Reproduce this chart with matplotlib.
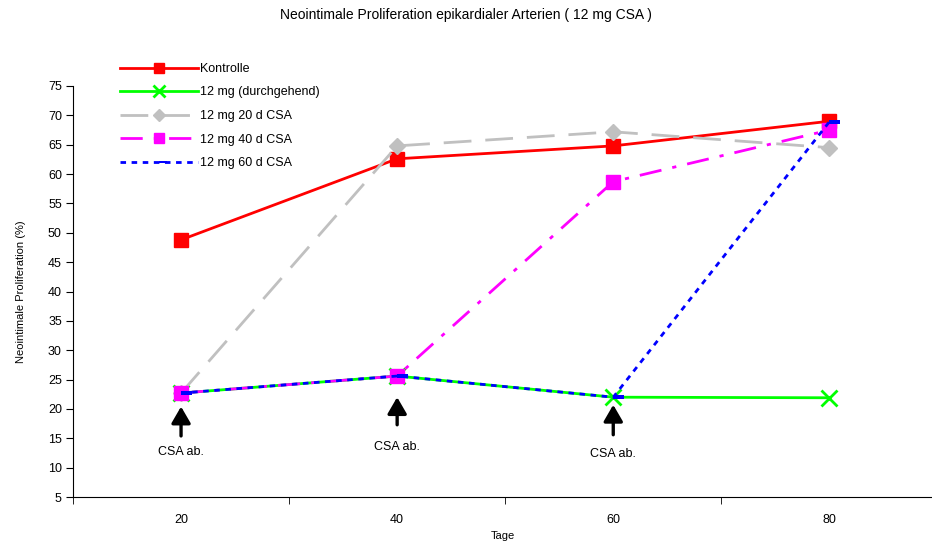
import matplotlib
matplotlib.use("Agg")
import matplotlib.pyplot as plt
from matplotlib.path import Path
from matplotlib.ticker import FixedLocator

# Measurement days and neointimal proliferation (%) per group
tage = [20, 40, 60, 80]
kontrolle = [48.8, 62.6, 64.8, 69.0]
durchgehend = [22.7, 25.6, 22.0, 21.9]
csa_20d = [22.7, 64.8, 67.2, 64.5]
csa_40d = [22.7, 25.6, 58.7, 67.5]
csa_60d = [22.7, 25.6, 22.0, 68.9]

# CSA withdrawal markers: day, arrow tip, arrow tail, label position
absetzen_tage = [20, 40, 60]
pfeil_spitze = [20.4, 22.0, 20.7]
pfeil_ende = [15.4, 17.3, 15.6]
text_pos = [12.6, 13.5, 12.4]

plt.rcParams['font.family'] = ['Liberation Sans', 'DejaVu Sans']

fig = plt.figure(figsize=(9.32, 5.47), dpi=100)
ax = fig.add_axes([73 / 932, 50 / 547, 1 - 73 / 932, 411 / 547])

# Excel-like "dash" marker, sitting slightly right of the point
dash_marker = Path([(0.0, -0.14), (1.0, -0.14), (1.0, 0.14), (0.0, 0.14), (0.0, -0.14)],
                   [Path.MOVETO, Path.LINETO, Path.LINETO, Path.LINETO, Path.CLOSEPOLY])

ax.plot(tage, kontrolle, color='#ff0000', lw=2, marker='s', ms=10,
        label='Kontrolle')
ax.plot(tage, durchgehend, color='#00ff00', lw=2, marker='x', ms=11, mew=2,
        label='12 mg (durchgehend)')
ax.plot(tage, csa_20d, color='#c0c0c0', lw=2, dashes=(10, 5), marker='D', ms=8,
        label='12 mg 20 d CSA')
ax.plot(tage, csa_40d, color='#ff00ff', lw=2, dashes=(8, 4, 1.5, 4), marker='s', ms=10,
        label='12 mg 40 d CSA')
ax.plot(tage, csa_60d, color='#0000ff', lw=2, dashes=(2, 2), marker=dash_marker, ms=16,
        mew=0, label='12 mg 60 d CSA')

for t, spitze, ende, ty in zip(absetzen_tage, pfeil_spitze, pfeil_ende, text_pos):
    ax.annotate('', xy=(t, spitze), xytext=(t, ende),
                arrowprops=dict(arrowstyle='-|>,head_width=0.58,head_length=1.0',
                                color='black', lw=2.4, shrinkA=0, shrinkB=0))
    ax.text(t, ty, 'CSA ab.', ha='center', va='center', fontsize=9)

ax.set_xlim(10, 89.5)
ax.set_ylim(5, 75)
ax.set_yticks(range(5, 80, 5))
ax.set_xticks(tage)
ax.xaxis.set_minor_locator(FixedLocator([10, 30, 50, 70, 90]))
ax.tick_params(axis='x', which='major', length=0, pad=12, labelsize=9)
ax.tick_params(axis='x', which='minor', length=5, direction='out')
ax.tick_params(axis='y', length=5, direction='out', labelsize=9, pad=3)

ax.spines['top'].set_visible(False)
ax.spines['right'].set_visible(False)

ax.set_xlabel('Tage', fontsize=8, labelpad=4)
ax.set_ylabel('Neointimale Proliferation (%)', fontsize=8, labelpad=16)

fig.suptitle('Neointimale Proliferation epikardialer Arterien ( 12 mg CSA )',
             fontsize=10, y=0.985)

fig.legend(loc='upper left', bbox_to_anchor=(120 / 932, 1 - 63 / 547),
           frameon=False, fontsize=9, handlelength=6.2, handletextpad=0.2,
           labelspacing=0.92, borderpad=0, borderaxespad=0, markerscale=0.75)

fig.savefig('out.png', dpi=100)
